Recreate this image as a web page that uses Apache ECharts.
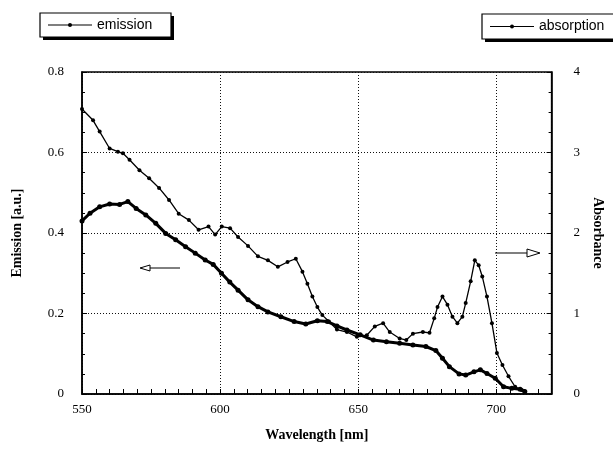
<!DOCTYPE html>
<html>
<head>
<meta charset="utf-8">
<script src="https://cdn.jsdelivr.net/npm/echarts@6/dist/echarts.min.js"></script>
<style>html,body{margin:0;padding:0;background:#fff}#c{width:613px;height:449px}</style>
</head>
<body>
<div id="c"></div>
<script>
// Emission (left axis, a.u.)
var emissionWavelength = [550,552.9,556.4,560,563.6,566.6,569.6,573.1,576.7,580.3,583.9,587.5,591,594.6,597.5,600.5,603.5,606.5,610.1,613.7,617.3,622,626.8,631,635.2,638.8,642.3,645.9,650.7,655.5,660.2,665,669.8,674.5,678.1,680.5,683,686.5,688.9,691.9,694.2,696.6,699.6,702.6,705.6,708.6,710.3];
var emissionValues = [0.430,0.449,0.465,0.472,0.471,0.478,0.461,0.445,0.424,0.399,0.383,0.366,0.350,0.333,0.322,0.300,0.278,0.258,0.234,0.217,0.204,0.192,0.180,0.174,0.182,0.180,0.169,0.159,0.147,0.134,0.130,0.126,0.122,0.118,0.108,0.089,0.068,0.050,0.047,0.055,0.060,0.051,0.039,0.018,0.014,0.012,0.006];
// Absorption (right axis, absorbance)
var absorptionWavelength = [550,554,556.4,560,563,564.8,567.2,570.8,574.3,577.9,581.5,585,588.7,592.2,595.8,598.2,600.6,603.6,606.5,610.1,613.7,617.3,620.9,624.4,627.4,629.8,631.6,633.4,635.2,637,639.4,642.3,645.9,649.5,653.1,656,659,661.4,665,667.4,669.8,673.4,675.8,677.5,678.7,680.5,682.3,684.1,685.9,687.7,688.9,690.7,692.2,693.6,694.9,696.6,698.4,700.2,702.2,704.4,706.8,709.2,710.3];
var absorptionValues = [3.54,3.40,3.26,3.05,3.01,2.99,2.91,2.78,2.68,2.56,2.41,2.24,2.16,2.04,2.08,1.98,2.08,2.06,1.95,1.84,1.71,1.66,1.58,1.64,1.68,1.52,1.37,1.21,1.08,0.98,0.90,0.80,0.77,0.71,0.73,0.84,0.88,0.77,0.69,0.67,0.75,0.77,0.76,0.94,1.08,1.21,1.11,0.96,0.88,0.96,1.13,1.40,1.66,1.60,1.46,1.21,0.88,0.51,0.36,0.22,0.09,0.05,0.03];
var xTickLabels = ['550','600','650','700'];
var leftTickLabels = ['0','0.2','0.4','0.6','0.8'];
var rightTickLabels = ['0','1','2','3','4'];

function pairs(xs, ys){ return xs.map(function(x,i){ return [x, ys[i]]; }); }

var serif = 'Liberation Serif';
var chart = echarts.init(document.getElementById('c'), null, {renderer:'canvas'});
var G = {left:82, top:72, width:475, height:322};

function legendBox(x, y, w, h, label){
  return [
    {type:'rect', shape:{x:x+3, y:y+3, width:w, height:h}, style:{fill:'#000'}, z:100},
    {type:'rect', shape:{x:x, y:y, width:w, height:h}, style:{fill:'#fff', stroke:'#000', lineWidth:1.2}, z:101},
    {type:'line', shape:{x1:x+8, y1:y+h/2, x2:x+52, y2:y+h/2}, style:{stroke:'#000', lineWidth:1.2}, z:102},
    {type:'circle', shape:{cx:x+30, cy:y+h/2, r:2}, style:{fill:'#000'}, z:102},
    {type:'text', x:x+57, y:y+h/2, style:{text:label, font:'14px "Liberation Sans"', fill:'#000', verticalAlign:'middle'}, z:102}
  ];
}

var graphics = [].concat(
  legendBox(40, 13, 131, 24, 'emission'),
  legendBox(482, 14, 140, 25, 'absorption'),
  [
    {type:'line', shape:{x1:142, y1:268, x2:180, y2:268}, style:{stroke:'#000', lineWidth:1}, z:50},
    {type:'polygon', shape:{points:[[140,268],[150,265],[150,271]]}, style:{fill:'#fff', stroke:'#000', lineWidth:1}, z:50},
    {type:'line', shape:{x1:495, y1:253, x2:530, y2:253}, style:{stroke:'#000', lineWidth:1.2}, z:50},
    {type:'polygon', shape:{points:[[540,253],[527,249],[527,257]]}, style:{fill:'#fff', stroke:'#000', lineWidth:1}, z:50}
  ]
);

var option = {
  animation:false,
  backgroundColor:'#fff',
  grid:{left:G.left, top:G.top, width:G.width, height:G.height, show:true, borderColor:'#000', borderWidth:1.5, backgroundColor:'transparent'},
  xAxis:[{
    type:'value', min:550, max:720, interval:5, position:'bottom',
    name:'Wavelength [nm]', nameLocation:'middle', nameGap:34,
    nameTextStyle:{fontFamily:serif, fontWeight:'bold', fontSize:14, color:'#000'},
    axisLine:{lineStyle:{color:'#000', width:1.5}},
    axisTick:{inside:true, length:5, lineStyle:{color:'#000', width:1}},
    axisLabel:{margin:9, fontFamily:serif, fontSize:13, color:'#000',
      formatter:function(v){ var s=String(Math.round(v)); return xTickLabels.indexOf(s)>=0 && Math.abs(v-Math.round(v))<1e-6 ? s : ''; }},
    splitLine:{show:false}
  },{
    type:'value', min:550, max:720, interval:50, position:'bottom', show:true,
    axisLine:{show:false}, axisTick:{show:false}, axisLabel:{show:false},
    splitLine:{show:true, lineStyle:{color:'#111', type:[1,2], width:1}}
  }],
  yAxis:[{
    type:'value', min:0, max:0.8, interval:0.2, position:'left',
    name:'Emission [a.u.]', nameLocation:'middle', nameGap:58, nameRotate:90,
    nameTextStyle:{fontFamily:serif, fontWeight:'bold', fontSize:14, color:'#000'},
    axisLine:{show:true, lineStyle:{color:'#000', width:1.5}},
    axisTick:{inside:true, length:5, lineStyle:{color:'#000'}},
    minorTick:{show:true, splitNumber:4, length:3, lineStyle:{color:'#000'}},
    axisLabel:{margin:18, fontFamily:serif, fontSize:13, color:'#000',
      formatter:function(v){ var i=Math.round(v/0.2); return leftTickLabels[i]; }},
    splitLine:{show:true, lineStyle:{color:'#111', type:[1,2], width:1}}
  },{
    type:'value', min:0, max:4, interval:1, position:'right',
    name:'Absorbance', nameLocation:'middle', nameGap:32, nameRotate:-90,
    nameTextStyle:{fontFamily:serif, fontWeight:'bold', fontSize:14, color:'#000'},
    axisLine:{show:true, lineStyle:{color:'#000', width:1.5}},
    axisTick:{inside:true, length:5, lineStyle:{color:'#000'}},
    minorTick:{show:true, splitNumber:4, length:3, lineStyle:{color:'#000'}},
    axisLabel:{margin:22, fontFamily:serif, fontSize:13, color:'#000',
      formatter:function(v){ return rightTickLabels[Math.round(v)]; }},
    splitLine:{show:false}
  }],
  series:[{
    name:'emission', type:'line', xAxisIndex:0, yAxisIndex:0,
    data:pairs(emissionWavelength, emissionValues),
    symbol:'circle', symbolSize:5, showAllSymbol:true,
    lineStyle:{color:'#000', width:3},
    itemStyle:{color:'#000'}, z:10
  },{
    name:'absorption', type:'line', xAxisIndex:0, yAxisIndex:1,
    data:pairs(absorptionWavelength, absorptionValues),
    symbol:'circle', symbolSize:4, showAllSymbol:true,
    lineStyle:{color:'#000', width:1.3},
    itemStyle:{color:'#000'}, z:10
  }],
  graphic:graphics
};
chart.setOption(option);
</script>
</body>
</html>
